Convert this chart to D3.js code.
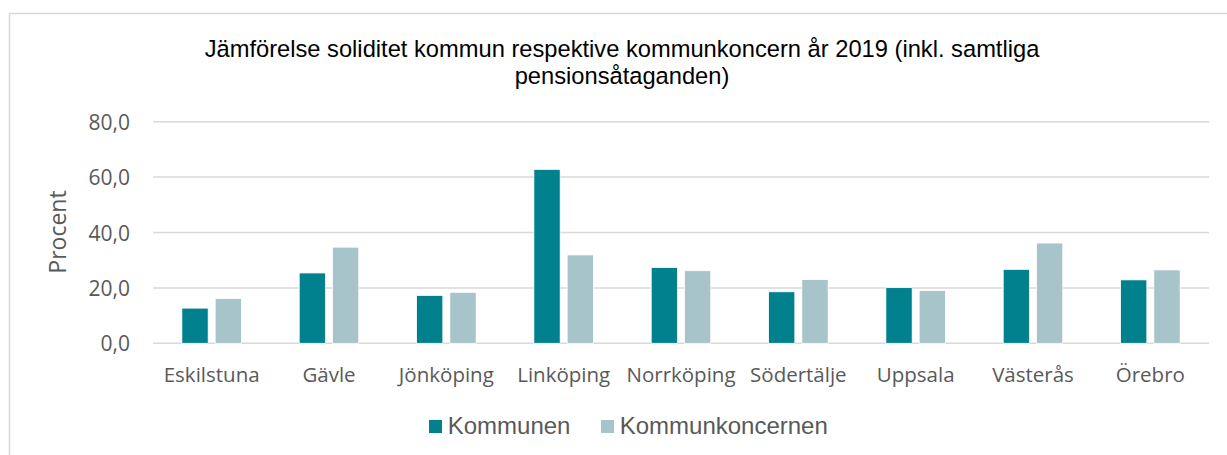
<!DOCTYPE html>
<html>
<head>
<meta charset="utf-8">
<script src="https://cdn.jsdelivr.net/npm/d3@7"></script>
<style>
  html, body { margin: 0; padding: 0; background: #fff; }
  svg { display: block; }
</style>
</head>
<body>
<svg id="chart" width="1227" height="455"></svg>
<script>
const categories = ["Eskilstuna", "Gävle", "Jönköping", "Linköping", "Norrköping", "Södertälje", "Uppsala", "Västerås", "Örebro"];
const seriesNames = ["Kommunen", "Kommunkoncernen"];
const kommunen = [12.7, 25.4, 17.3, 62.8, 27.4, 18.6, 20.1, 26.7, 22.9];
const kommunkoncernen = [16.2, 34.7, 18.4, 31.9, 26.2, 23.0, 19.0, 36.2, 26.5];
const yTicks = [0, 20, 40, 60, 80];
const titleLines = ["Jämförelse soliditet kommun respektive kommunkoncern år 2019 (inkl. samtliga", "pensionsåtaganden)"];
const yAxisTitle = "Procent";

const colors = { "Kommunen": "#00818D", "Kommunkoncernen": "#A7C4CA" };
const seriesValues = { "Kommunen": kommunen, "Kommunkoncernen": kommunkoncernen };

const svg = d3.select("#chart");
const W = 1227, H = 455;
const plot = { left: 153, right: 1209, top: 121.7, bottom: 343.3 };

// chart border
svg.append("rect")
  .attr("x", 9.5).attr("y", 13.5)
  .attr("width", W + 20).attr("height", H + 20)
  .attr("fill", "#fff").attr("stroke", "#d9d9d9").attr("stroke-width", 1.5);

const y = d3.scaleLinear().domain([0, 80]).range([plot.bottom, plot.top]);
const x0 = d3.scaleBand().domain(categories).range([plot.left, plot.right]).paddingInner(0).paddingOuter(0);
const x1 = d3.scaleBand().domain(seriesNames).range([0, x0.bandwidth()]).paddingInner(0.21).paddingOuter(0.867);

// gridlines
svg.append("g").selectAll("line").data(yTicks).join("line")
  .attr("x1", plot.left).attr("x2", plot.right)
  .attr("y1", d => y(d)).attr("y2", d => y(d))
  .attr("stroke", "#d9d9d9").attr("stroke-width", 1.5);

// y axis labels
const yAxis = d3.axisLeft(y).tickValues(yTicks).tickSize(0).tickPadding(0)
  .tickFormat(d => d3.format(".1f")(d).replace(".", ","));
const yg = svg.append("g").attr("transform", `translate(130,0)`).call(yAxis);
yg.select(".domain").remove();
yg.selectAll("text")
  .attr("font-family", "'Open Sans', sans-serif").attr("font-size", 21)
  .attr("fill", "#595959").attr("dy", "0.36em");

// x axis labels
const xAxis = d3.axisBottom(x0).tickSize(0).tickPadding(0);
const xg = svg.append("g").attr("transform", `translate(0,382)`).call(xAxis);
xg.select(".domain").remove();
xg.selectAll("text")
  .attr("font-family", "'Open Sans', sans-serif").attr("font-size", 20.5)
  .attr("fill", "#595959").attr("dy", 0).attr("y", 0);

// bars
const groups = svg.append("g").selectAll("g").data(categories).join("g")
  .attr("transform", d => `translate(${x0(d)},0)`);
groups.selectAll("rect")
  .data((c, i) => seriesNames.map(s => ({ s, v: seriesValues[s][i] })))
  .join("rect")
  .attr("x", d => x1(d.s))
  .attr("width", x1.bandwidth())
  .attr("y", d => y(d.v))
  .attr("height", d => y(0) - y(d.v))
  .attr("fill", d => colors[d.s])
  .attr("stroke", "#ffffff").attr("stroke-width", 0.8);

// title
svg.append("g").selectAll("text").data(titleLines).join("text")
  .attr("x", 622).attr("y", (d, i) => 56.5 + i * 27.5)
  .attr("text-anchor", "middle")
  .attr("font-family", "'Liberation Sans', Arial, sans-serif").attr("font-size", 23.7)
  .attr("fill", "#000")
  .text(d => d);

// y axis title
svg.append("text")
  .attr("transform", "translate(66,232) rotate(-90)")
  .attr("text-anchor", "middle")
  .attr("font-family", "'Open Sans', sans-serif").attr("font-size", 23)
  .attr("fill", "#595959")
  .text(yAxisTitle);

// legend
const legendX = [429, 601];
const lg = svg.append("g").selectAll("g").data(seriesNames).join("g")
  .attr("transform", (d, i) => `translate(${legendX[i]},420)`);
lg.append("rect").attr("x", 0).attr("y", 0).attr("width", 13).attr("height", 13)
  .attr("fill", d => colors[d]);
lg.append("text").attr("x", 18.7).attr("y", 14)
  .attr("font-family", "'Liberation Sans', Arial, sans-serif").attr("font-size", 24)
  .attr("fill", "#595959")
  .text(d => d);
</script>
</body>
</html>
